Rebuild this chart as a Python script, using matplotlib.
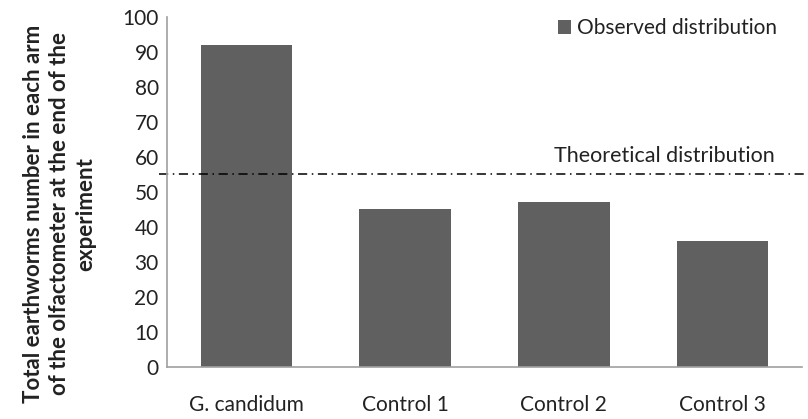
import matplotlib.pyplot as plt

# Data
categories = ["G. candidum", "Control 1", "Control 2", "Control 3"]
observed = [92, 45, 47, 36]
theoretical = 55

plt.rcParams['font.family'] = ['Lato', 'DejaVu Sans']

fig = plt.figure(figsize=(8.08, 4.19), dpi=100)
ax = fig.add_axes([167 / 808, 1 - 367 / 419, 635 / 808, 350 / 419])

x = range(len(categories))
ax.bar(x, observed, width=0.575, color='#606060', label='Observed distribution')
ax.axhline(theoretical, xmin=-0.012, xmax=1.01, color='black', linestyle=(0, (6, 3, 1, 3)),
           linewidth=1.1, clip_on=False)
ax.text(3.33, theoretical + 2.5, "Theoretical distribution", ha='right', va='bottom',
        fontsize=15.5, color='#222222')

ax.set_xlim(-0.5, 3.5)
ax.set_ylim(0, 100)
ax.set_yticks(range(0, 101, 10))
ax.set_xticks(list(x))
ax.set_xticklabels(categories)
ax.tick_params(axis='x', length=0, pad=20, labelsize=15, colors='#222222')
ax.tick_params(axis='y', length=0, pad=6, labelsize=15, colors='#222222')

for s in ['top', 'right']:
    ax.spines[s].set_visible(False)
for s in ['left', 'bottom']:
    ax.spines[s].set_color('#a0a0a0')
    ax.spines[s].set_linewidth(1.2)

ax.legend(loc='upper right', bbox_to_anchor=(0.99, 1.05), frameon=False, fontsize=15,
          handlelength=0.6, handleheight=0.6, handletextpad=0.3, labelcolor='#222222')

fig.text(0.074, 0.49, "Total earthworms number in each arm\nof the olfactometer at the end of the\nexperiment",
         rotation=90, ha='center', va='center', fontsize=16, fontweight='bold',
         multialignment='center', color='#222222', linespacing=1.3)

plt.savefig('out.png', dpi=100)
